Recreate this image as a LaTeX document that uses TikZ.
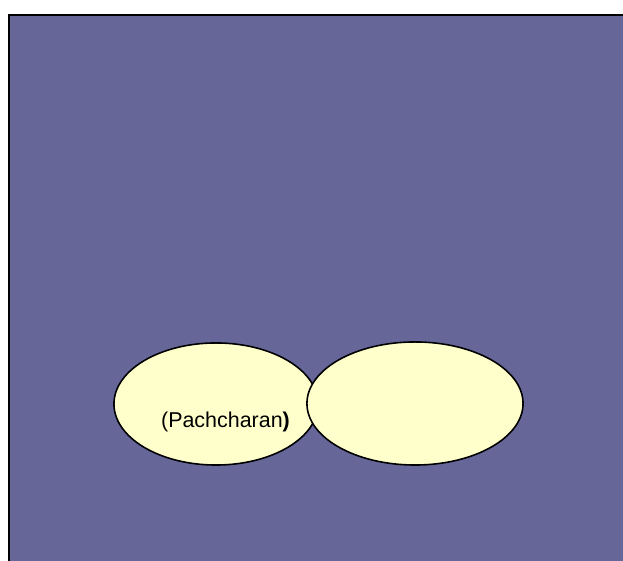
\documentclass[tikz,border=0pt]{standalone}
\usepackage{fontspec}
\setmainfont{Liberation Sans}
\usetikzlibrary{shapes.geometric}
\definecolor{slate}{RGB}{102,102,153}
\definecolor{cream}{RGB}{255,255,204}
\tikzset{blob/.style={ellipse, draw=black, line width=0.45pt, fill=cream, inner sep=0pt}}
\begin{document}
\begin{tikzpicture}[x=0.01cm,y=-0.01cm]
\useasboundingbox (0,0) rectangle (623,561);

\fill[slate] (9,15) rectangle (623,561);
\draw[black, line width=0.6pt] (9,561)--(9,15)--(623,15);

\node[blob, minimum width=2.04cm, minimum height=1.22cm] (left) at (216,404) {};
\node[blob, minimum width=2.16cm, minimum height=1.23cm] (right) at (415,403.5) {};

\node[font=\fontsize{6.1pt}{7pt}\selectfont, inner sep=0pt] (name) at (225.5,422) {(Pachcharan\textbf{)}};

\end{tikzpicture}
\end{document}
